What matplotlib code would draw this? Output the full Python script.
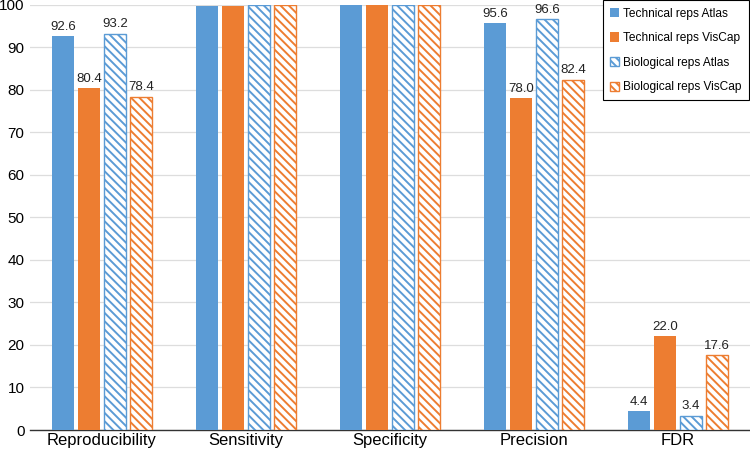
import matplotlib.pyplot as plt
import numpy as np

plt.rcParams['font.family'] = ['Liberation Sans', 'DejaVu Sans']
plt.rcParams['hatch.linewidth'] = 1.4

categories = ['Reproducibility', 'Sensitivity', 'Specificity', 'Precision', 'FDR']
tech_atlas = [92.6, 99.8, 100.0, 95.6, 4.4]
tech_viscap = [80.4, 99.6, 99.9, 78.0, 22.0]
bio_atlas = [93.2, 100.0, 100.0, 96.6, 3.4]
bio_viscap = [78.4, 100.0, 100.0, 82.4, 17.6]
labeled = [True, False, False, True, True]

blue = '#5B9BD5'
orange = '#ED7D31'

fig = plt.figure(figsize=(7.5, 4.5), dpi=100)
ax = fig.add_axes([0.04, 0.0444, 0.96, 0.945])

x = np.arange(len(categories))
w = 0.148
step = 0.18

series = [
    ('Technical reps Atlas', tech_atlas, blue, None),
    ('Technical reps VisCap', tech_viscap, orange, None),
    ('Biological reps Atlas', bio_atlas, blue, '\\\\\\\\'),
    ('Biological reps VisCap', bio_viscap, orange, '\\\\\\\\'),
]

for i, (name, vals, col, hatch) in enumerate(series):
    pos = x + (i - 1.5) * step
    if hatch is None:
        bars = ax.bar(pos, vals, w, color=col, label=name, zorder=3)
    else:
        bars = ax.bar(pos, vals, w, facecolor='white', edgecolor=col,
                      hatch=hatch, linewidth=1.0, label=name, zorder=3)
    for j, b in enumerate(bars):
        if labeled[j]:
            ax.text(b.get_x() + b.get_width() / 2, vals[j] + 0.8, f'{vals[j]:.1f}',
                    ha='center', va='bottom', fontsize=9.5, color='#222222')

ax.set_xlim(-0.5, 4.5)
ax.set_ylim(0, 100)
ax.set_yticks(range(0, 101, 10))
ax.set_xticks(x)
ax.set_xticklabels(categories, fontsize=12)
ax.tick_params(axis='y', labelsize=11, length=0, pad=4)
ax.tick_params(axis='x', length=0, pad=2)
ax.grid(axis='y', color='#DDDDDD', linewidth=0.9, zorder=0)
for s in ['top', 'right', 'left']:
    ax.spines[s].set_visible(False)
ax.spines['bottom'].set_color('#333333')
ax.spines['bottom'].set_linewidth(1.0)

leg = ax.legend(loc='upper right', bbox_to_anchor=(0.998, 0.999),
                bbox_transform=fig.transFigure, fontsize=8.6,
                frameon=True, fancybox=False, framealpha=1,
                handlelength=0.8, handleheight=0.8,
                handletextpad=0.3, labelspacing=1.05, borderpad=0.6,
                borderaxespad=0)
leg.get_frame().set_edgecolor('black')
leg.get_frame().set_linewidth(0.8)

fig.savefig('out.png', dpi=100)
